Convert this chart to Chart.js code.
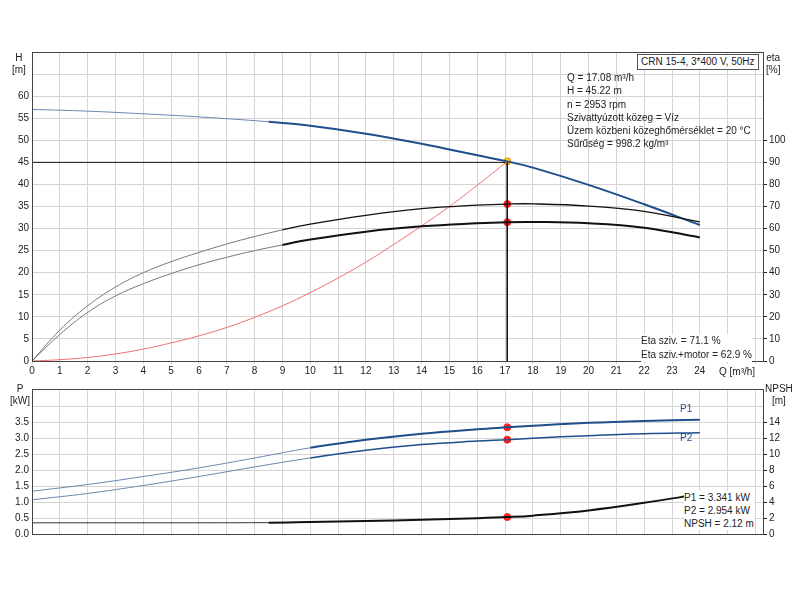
<!DOCTYPE html>
<html><head><meta charset="utf-8">
<script src="https://cdn.jsdelivr.net/npm/chart.js@4"></script>
<style>
body{margin:0;width:800px;height:600px;background:#fff;font-family:"Liberation Sans",Arial,sans-serif;position:relative;overflow:hidden}
canvas{position:absolute;left:0}
.t{position:absolute;font-size:10px;color:#222;line-height:12px;white-space:nowrap}
</style></head><body>
<canvas id="c1" width="800" height="380" style="top:0"></canvas>
<canvas id="c2" width="800" height="220" style="top:380px"></canvas>
<div class="t" style="left:12px;top:52px;text-align:center">H<br>[m]</div>
<div class="t" style="left:766px;top:52px;text-align:center">eta<br>[%]</div>
<div class="t" style="left:719px;top:366px">Q [m³/h]</div>
<div class="t" style="left:10px;top:383px;text-align:center">P<br>[kW]</div>
<div class="t" style="left:765px;top:383px;text-align:center">NPSH<br>[m]</div>
<div class="t" style="left:637px;top:54px;border:1px solid #555;background:#fff;padding:1px 3px;font-size:10px">CRN 15-4, 3*400 V, 50Hz</div>
<div class="t" style="left:567px;top:71px;line-height:13.3px">Q = 17.08 m³/h<br>H = 45.22 m<br>n = 2953 rpm<br>Szivattyúzott közeg = Víz<br>Üzem közbeni közeghőmérséklet = 20 °C<br>Sűrűség = 998.2 kg/m³</div>
<div class="t" style="left:641px;top:334px;line-height:14px;background:#fff">Eta sziv. = 71.1 %<br>Eta sziv.+motor = 62.9 %</div>
<div class="t" style="left:684px;top:491px;line-height:13px;background:#fff">P1 = 3.341 kW<br>P2 = 2.954 kW<br>NPSH = 2.12 m</div>
<div class="t" style="left:680px;top:403px;color:#1f4e8c">P1</div>
<div class="t" style="left:680px;top:432px;color:#1f4e8c">P2</div>
<script>
const qH=[0,2,4,6,8.5,10,12,14,16,17.08,18,20,22,24];
const hVals=[57,56.6,56,55.3,54.2,53.3,51.5,49.2,46.6,45.22,43.8,39.9,35.5,30.8];
const qEta=[0,1,2,3,4,5,6,7,8,9,10,12,14,16,17.08,18,20,22,24];
const etaPump=[0,14,25,33.5,40,45,49.2,53,56.4,59.4,62,66,69,70.6,71.1,71.2,70.2,67.8,63];
const etaTotal=[0,12,22,29.5,35,39.6,43.6,47,50,52.6,55,58.6,61,62.4,62.9,63,62.4,60.4,56];
const qSys=[0,1,2,3,4,5,6,7,8,9,10,11,12,13,14,15,16,17.08];
const hSys=[0,0.3,0.8,1.6,2.7,4.1,5.7,7.6,9.9,12.5,15.5,18.8,22.4,26.4,30.6,35,39.8,45.22];
const qP=[0,2,4,6,8,10,12,14,16,17.08,18,20,22,24];
const p1=[1.34,1.55,1.8,2.07,2.38,2.7,2.95,3.14,3.28,3.341,3.39,3.48,3.54,3.58];
const p2=[1.07,1.27,1.52,1.8,2.1,2.38,2.62,2.8,2.91,2.954,3.0,3.08,3.14,3.17];
const qN=[0,8.5,10,12,14,16,17.08,18,20,22,24];
const npsh=[1.4,1.42,1.5,1.62,1.78,1.98,2.12,2.3,2.95,3.9,5.0];
const dutyQ=17.08, dutyH=45.22, dutyEta1=71.1, dutyEta2=62.9, dutyP1=3.341, dutyP2=2.954, dutyN=2.12;
const xTicks=[0,1,2,3,4,5,6,7,8,9,10,11,12,13,14,15,16,17,18,19,20,21,22,23,24];

const pts=(xs,ys)=>xs.map((x,i)=>({x,y:ys[i]}));
const seg=(w1,w2,c1,c2)=>({borderWidth:c=>c.p0.parsed.x>=8.4?w2:w1,borderColor:c=>c.p0.parsed.x>=8.4?c2:c1});
const font={family:"Liberation Sans",size:10};
const grid='#d4d4d4';
function line(data,col,w,axis,extra){return Object.assign({data,showLine:true,borderColor:col,borderWidth:w,pointRadius:0,tension:0.4,fill:false,yAxisID:axis},extra||{});}
function dot(x,y,axis,fill,bc){return {data:[{x,y}],yAxisID:axis,pointRadius:3.5,pointBorderWidth:1,pointBackgroundColor:fill,pointBorderColor:bc||fill,showLine:false};}
const fixW=w=>s=>{s.width=w;};
const fixH=h=>s=>{s.height=h;};
const border={id:'bd',afterDraw(c){const a=c.chartArea,x=c.ctx;x.save();x.strokeStyle='#444';x.lineWidth=1;x.strokeRect(a.left+0.5,a.top+0.5,a.right-a.left,a.bottom-a.top);x.restore();}};

new Chart(document.getElementById('c1'),{type:'scatter',
 data:{datasets:[
  line(pts(qEta,etaPump),'#222',1.2,'yE',{segment:seg(1,1.3,'#777','#111')}),
  line(pts(qEta,etaTotal),'#222',2,'yE',{segment:seg(1,2,'#777','#111')}),
  line(pts(qSys,hSys),'#f07070',1,'y'),
  line(pts([0,dutyQ,dutyQ],[45,45,0]),'#111',1,'y',{tension:0}),
  line(pts(qH,hVals),'#1f4e8c',2,'y',{segment:seg(1,2,'#6a86b0','#1f4e8c')}),
  dot(dutyQ,dutyEta1,'yE','#ff2020'),dot(dutyQ,dutyEta2,'yE','#ff2020'),
  dot(dutyQ,dutyH,'y','#ffd21a','#e08a00')
 ]},
 options:{responsive:false,animation:false,layout:{padding:{top:52,left:0,right:0,bottom:0}},
  plugins:{legend:{display:false},tooltip:{enabled:false}},
  scales:{
   x:{type:'linear',min:0,max:26.27,afterBuildTicks:s=>{s.ticks=xTicks.concat([25,26]).map(v=>({value:v}));},afterFit:fixH(19),
      ticks:{font,color:'#222',padding:1,callback:v=>v<=24?v:''},grid:{color:grid,tickLength:3},border:{color:'#444'}},
   y:{min:0,max:70,afterFit:fixW(32),afterBuildTicks:s=>{s.ticks=[0,5,10,15,20,25,30,35,40,45,50,55,60,65].map(v=>({value:v}));},
      ticks:{font,color:'#222',callback:v=>v<=60?v:''},grid:{color:grid,tickLength:0},border:{color:'#444'}},
   yE:{position:'right',min:0,max:140,afterFit:fixW(37),afterBuildTicks:s=>{s.ticks=[0,10,20,30,40,50,60,70,80,90,100].map(v=>({value:v}));},
      ticks:{font,color:'#222',padding:2},grid:{drawOnChartArea:false,tickLength:4,tickColor:'#222'},border:{color:'#222'}}
  }},plugins:[border]});

new Chart(document.getElementById('c2'),{type:'scatter',
 data:{datasets:[
  line(pts(qP,p1),'#1f4e8c',2,'y',{segment:seg(1,2,'#6a86b0','#1f4e8c')}),
  line(pts(qP,p2),'#1f4e8c',1.5,'y',{segment:seg(1,1.5,'#6a86b0','#1f4e8c')}),
  line(pts(qN,npsh),'#111',2,'yN',{segment:seg(1,2,'#333','#111')}),
  dot(dutyQ,dutyP1,'y','#ff2020'),dot(dutyQ,dutyP2,'y','#ff2020'),dot(dutyQ,dutyN,'yN','#ff2020')
 ]},
 options:{responsive:false,animation:false,layout:{padding:{top:5,left:0,right:0,bottom:66}},
  plugins:{legend:{display:false},tooltip:{enabled:false}},
  scales:{
   x:{type:'linear',min:0,max:26.27,afterBuildTicks:s=>{s.ticks=xTicks.concat([25,26]).map(v=>({value:v}));},afterFit:fixH(0),
      ticks:{display:false},grid:{color:grid,tickLength:0},border:{color:'#444'}},
   y:{min:0,max:4.54,afterFit:fixW(32),afterBuildTicks:s=>{s.ticks=[0,0.5,1,1.5,2,2.5,3,3.5,4].map(v=>({value:v}));},
      ticks:{font,color:'#222',callback:v=>v<=3.5?v.toFixed(1):''},grid:{color:grid,tickLength:0},border:{color:'#444'}},
   yN:{position:'right',min:0,max:18.16,afterFit:fixW(37),afterBuildTicks:s=>{s.ticks=[0,2,4,6,8,10,12,14].map(v=>({value:v}));},
      ticks:{font,color:'#222',padding:2},grid:{drawOnChartArea:false,tickLength:4,tickColor:'#222'},border:{color:'#222'}}
  }},plugins:[border]});
</script></body></html>
